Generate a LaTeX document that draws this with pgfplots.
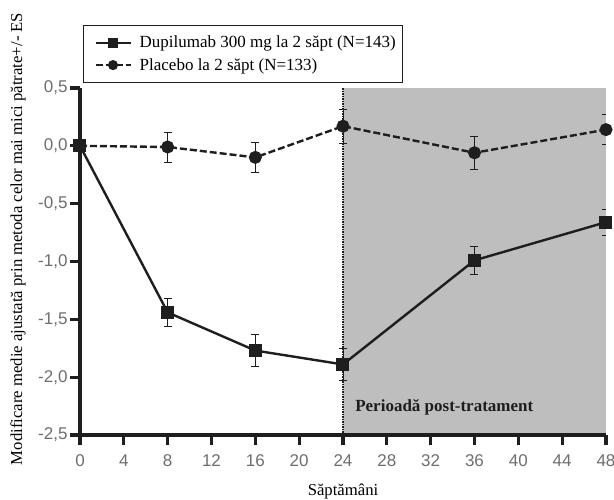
\documentclass[border=0pt]{standalone}
\usepackage{pgfplots}
\pgfplotsset{compat=1.18}
\usepackage{fontspec}
\setmainfont{Liberation Serif}
\setsansfont{Liberation Sans}
\definecolor{shade}{RGB}{190,190,190}
\definecolor{ink}{RGB}{30,30,30}
\definecolor{ticklab}{RGB}{110,110,110}
\begin{document}
\begin{tikzpicture}[x=1pt,y=1pt]
\useasboundingbox (-80,-64) rectangle (534,435);
\begin{axis}[
  scale only axis, width=526pt, height=347pt,
  xmin=0, xmax=48, ymin=-2.5, ymax=0.5,
  axis x line*=bottom, axis y line*=left,
  axis line style={line width=3.6pt, color=ink, -},
  axis on top,
  xtick={0,4,...,48},
  xticklabels={0,4,8,12,16,20,24,28,32,36,40,44,48},
  ytick={-2.5,-2,-1.5,-1,-0.5,0,0.5},
  yticklabels={{-2,5},{-2,0},{-1,5},{-1,0},{-0,5},{0,0},{0,5}},
  tick align=outside, major tick length=10pt,
  tick style={line width=3.2pt, color=ink},
  ticklabel style={font=\sffamily\fontsize{17}{17}\selectfont, color=ticklab},
  xticklabel style={yshift=-6pt},
  yticklabel style={xshift=1pt},
  xlabel={Săptămâni},
  ylabel={Modificare medie ajustată prin metoda celor mai mici pătrate+/- ES},
  label style={font=\fontsize{16.7}{18}\selectfont},
  xlabel style={at={(axis description cs:0.5,-0.163)}, anchor=center},
  ylabel style={at={(axis description cs:-0.118,0.565)}, anchor=center},
  legend style={at={(0.0057,1.182)}, anchor=north west, draw=ink, line width=0.6pt,
    font=\fontsize{17}{18}\selectfont, row sep=5pt, inner xsep=5pt, inner ysep=9pt},
  legend cell align=left,
  legend image code/.code={\path (0pt,0pt) (47pt,0pt);\draw[mark repeat=2,mark phase=2, mark size=3.8pt] plot coordinates {(6pt,0pt)(23.5pt,0pt)(41pt,0pt)};},
]
\addplot[fill=shade, draw=none, forget plot] coordinates {(24,-2.5) (48,-2.5) (48,0.5) (24,0.5)} -- cycle;
\addplot[densely dotted, line width=1.5pt, color=ink, forget plot] coordinates {(24,-2.5) (24,0.5)};

\addplot[color=ink, line width=2.4pt, mark=square*, mark size=5.3pt, mark options={solid},
  error bars/.cd, y dir=both, y explicit,
  error bar style={line width=0.7pt, color=ink, solid},
  error mark options={rotate=90, mark size=4pt, line width=0.7pt, color=ink}]
  coordinates {
  (0,0) +- (0,0)
  (8,-1.44) +- (0,0.12)
  (16,-1.77) +- (0,0.14)
  (24,-1.89) +- (0,0.14)
  (36,-0.99) +- (0,0.12)
  (48,-0.66) +- (0,0.11)
  };
\addlegendentry{Dupilumab 300 mg la 2 săpt (N=143)}

\addplot[color=ink, line width=2.4pt, dash pattern=on 7pt off 3pt, mark=*, mark size=5.3pt, mark options={solid},
  error bars/.cd, y dir=both, y explicit,
  error bar style={line width=0.7pt, color=ink, solid},
  error mark options={rotate=90, mark size=4pt, line width=0.7pt, color=ink}]
  coordinates {
  (0,0) +- (0,0)
  (8,-0.01) +- (0,0.13)
  (16,-0.10) +- (0,0.13)
  (24,0.17) +- (0,0.147)
  (36,-0.06) +- (0,0.14)
  (48,0.14) +- (0,0.13)
  };
\addlegendentry{Placebo la 2 săpt (N=133)}

\node[anchor=west, font=\bfseries\fontsize{17}{18}\selectfont, color=ink] at (axis cs:24.8,-2.258) {Perioadă post-tratament};
\end{axis}
\end{tikzpicture}
\end{document}
